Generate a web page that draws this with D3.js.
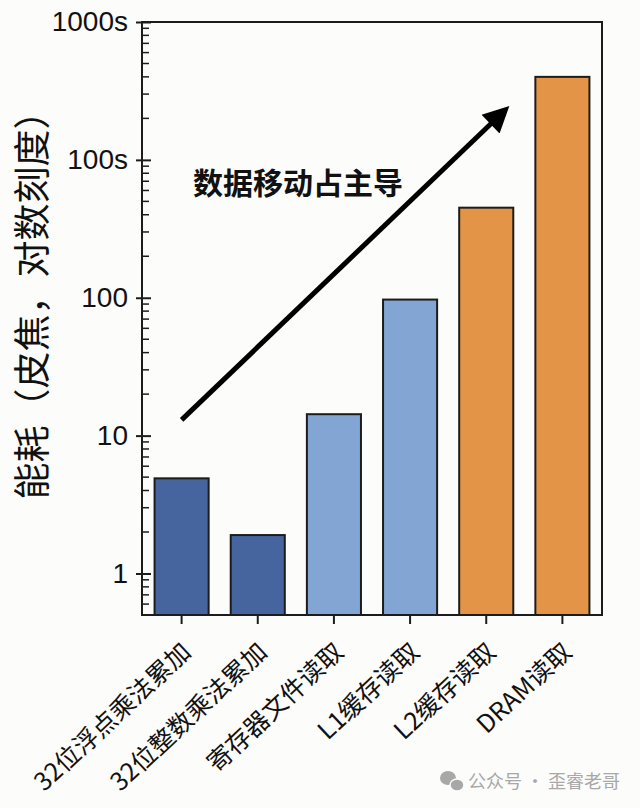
<!DOCTYPE html>
<html>
<head>
<meta charset="utf-8">
<script src="https://cdn.jsdelivr.net/npm/d3@7"></script>
<style>
  html, body { margin: 0; padding: 0; background: #fcfcfa; }
  svg { display: block; }
</style>
</head>
<body>
<svg id="chart" width="640" height="808"></svg>
<script>
// data
var categories = ["32位浮点乘法累加", "32位整数乘法累加", "寄存器文件读取", "L1缓存读取", "L2缓存读取", "DRAM读取"];
var energy = [4.9, 1.9, 14.3, 97, 450, 4000];
var groups = ["compute", "compute", "near", "near", "far", "far"];
var yTickValues = [1, 10, 100, 1000, 10000];
var yTickLabels = ["1", "10", "100", "100s", "1000s"];
var arrowFrom = [0, 13];      // [category position, value]
var arrowTo = [4.29, 2400];

var svg = d3.select("#chart");
var margin = { top: 22, right: 38, bottom: 193, left: 142 };
var width = 640 - margin.left - margin.right;
var height = 808 - margin.top - margin.bottom;

var colors = { compute: "#46659f", near: "#82a5d4", far: "#e49447" };

var g = svg.append("g")
           .attr("transform", "translate(" + margin.left + "," + margin.top + ")");

var x = d3.scaleBand()
          .domain(categories)
          .range([0, width])
          .paddingInner(0.29)
          .paddingOuter(0.165);

var y = d3.scaleLog()
          .domain([0.5, 10000])
          .range([height, 0]);

// position along the category axis, fractional index allowed
function xAt(i) {
  return x(categories[0]) + x.bandwidth() / 2 + i * x.step();
}

// bars
g.selectAll("rect.bar")
 .data(energy)
 .enter().append("rect")
 .attr("class", "bar")
 .attr("x", function(d, i) { return x(categories[i]); })
 .attr("width", x.bandwidth())
 .attr("y", function(d) { return y(d); })
 .attr("height", function(d) { return height - y(d); })
 .attr("fill", function(d, i) { return colors[groups[i]]; })
 .attr("stroke", "#1c1c1c")
 .attr("stroke-width", 2);

// y axis, major ticks cross the frame
var yAxis = d3.axisLeft(y)
              .tickValues(yTickValues)
              .tickFormat(function(d, i) { return yTickLabels[i]; })
              .tickSizeInner(6)
              .tickSizeOuter(0)
              .tickPadding(8);

var yg = g.append("g").call(yAxis);
yg.select(".domain").remove();
yg.selectAll(".tick line").attr("x2", -6).attr("x1", 9)
  .attr("stroke", "#1c1c1c").attr("stroke-width", 2);
yg.selectAll(".tick text")
  .style("font", "28px 'Liberation Sans', Arial, sans-serif")
  .attr("fill", "#111");

// minor ticks inside the frame
var minor = y.ticks().filter(function(d) { return yTickValues.indexOf(d) < 0; });
g.selectAll("line.minor")
 .data(minor)
 .enter().append("line")
 .attr("class", "minor")
 .attr("x1", 0).attr("x2", 7)
 .attr("y1", function(d) { return y(d); })
 .attr("y2", function(d) { return y(d); })
 .attr("stroke", "#1c1c1c")
 .attr("stroke-width", 1.5);

// x axis
var xAxis = d3.axisBottom(x).tickSizeInner(9).tickSizeOuter(0).tickPadding(0);
var xg = g.append("g")
          .attr("transform", "translate(0," + height + ")")
          .call(xAxis);
xg.select(".domain").remove();
xg.selectAll(".tick line").attr("stroke", "#1c1c1c").attr("stroke-width", 2);
xg.selectAll(".tick text")
  .attr("y", 0).attr("dy", 0)
  .attr("transform", "translate(11,39) rotate(-43)")
  .attr("text-anchor", "end")
  .attr("fill", "#111")
  .style("font", "25px 'Noto Sans CJK SC', 'Liberation Sans', sans-serif");

// frame
g.append("rect")
 .attr("x", 0).attr("y", 0)
 .attr("width", width).attr("height", height)
 .attr("fill", "none")
 .attr("stroke", "#1c1c1c")
 .attr("stroke-width", 2);

// trend arrow
svg.append("defs").append("marker")
   .attr("id", "head")
   .attr("viewBox", "0 0 10 10")
   .attr("refX", 2).attr("refY", 5)
   .attr("markerWidth", 5.8).attr("markerHeight", 5.2)
   .attr("orient", "auto")
   .append("path")
   .attr("d", "M0,0 L10,5 L0,10 Z")
   .attr("fill", "#000");

g.append("line")
 .attr("x1", xAt(arrowFrom[0])).attr("y1", y(arrowFrom[1]))
 .attr("x2", xAt(arrowTo[0]) - 14).attr("y2", y(arrowTo[1]) + 13)
 .attr("stroke", "#000")
 .attr("stroke-width", 5)
 .attr("marker-end", "url(#head)");

svg.append("text")
   .attr("x", 193).attr("y", 194)
   .text("数据移动占主导")
   .style("font", "bold 30px 'Noto Sans CJK SC', sans-serif")
   .attr("fill", "#111");

// y title
svg.append("text")
   .attr("transform", "translate(46,296) rotate(-90)")
   .attr("text-anchor", "middle")
   .text("能耗（皮焦，对数刻度）")
   .style("font", "37px 'Noto Sans CJK SC', sans-serif")
   .attr("fill", "#111");

// watermark
var wm = svg.append("g").attr("fill", "#a8a8a8");
wm.append("ellipse").attr("cx", 448).attr("cy", 778).attr("rx", 8).attr("ry", 7);
wm.append("ellipse").attr("cx", 457).attr("cy", 785).attr("rx", 7).attr("ry", 6)
  .attr("stroke", "#fcfcfa").attr("stroke-width", 1.5);
wm.append("text")
  .attr("x", 468).attr("y", 788)
  .text("公众号 · 歪睿老哥")
  .style("font", "18px 'Noto Sans CJK SC', sans-serif");
</script>
</body>
</html>
